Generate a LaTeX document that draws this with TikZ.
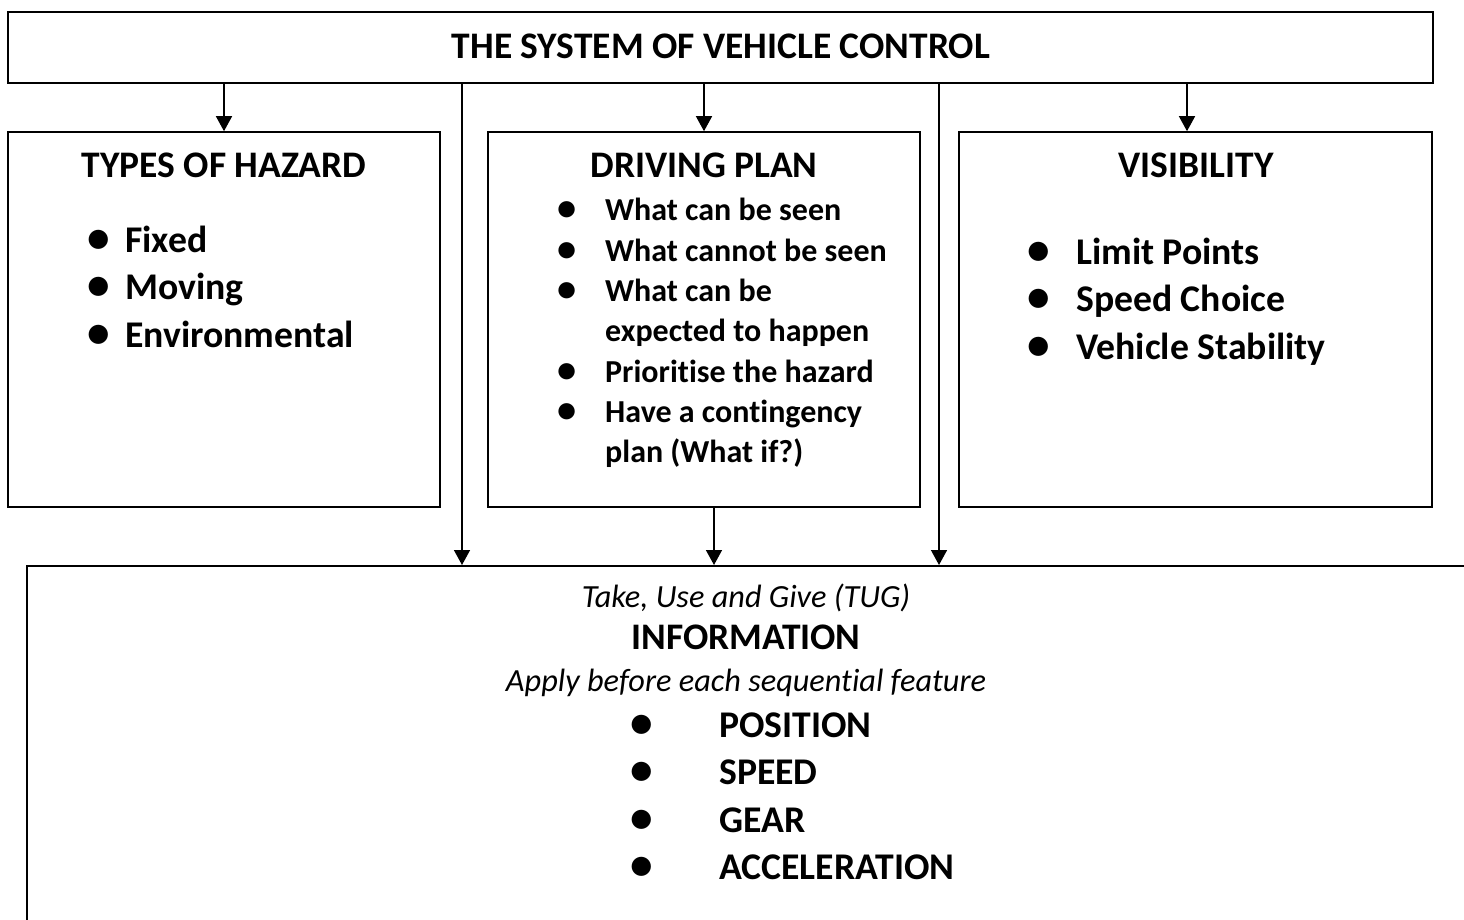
\documentclass[tikz,border=0pt]{standalone}
\usepackage{fontspec}
\setmainfont{Carlito}[RawFeature={-liga}]
\usetikzlibrary{arrows.meta}
\newcommand{\blt}[1]{\makebox[#1][l]{\scalebox{1.2}{\textbullet}}}
\newcommand{\bigfont}{\fontsize{37.7}{47.5}\selectfont\bfseries}
\newcommand{\midfont}{\fontsize{32}{40.3}\selectfont\bfseries}

\begin{document}
\begin{tikzpicture}[x=1pt,y=-1pt,
    box/.style={draw,line width=1.6pt,rectangle,inner sep=0pt},
    head/.style={anchor=base,inner sep=0pt,font=\fontsize{37.5}{45}\selectfont\bfseries},
    note/.style={anchor=base,inner sep=0pt,font=\fontsize{32.3}{39}\selectfont\itshape},
    items/.style={anchor=base west,inner sep=0pt},
    arr/.style={line width=1.5pt,-{Triangle[width=16pt,length=15pt]}},
    link/.style={line width=1.5pt}]
  \clip (0,0) rectangle (1464,920);

  % boxes
  \node[box,minimum width=1425pt,minimum height=71pt] (title) at (720.5,47.5) {};
  \node[box,minimum width=432pt,minimum height=375pt] (hazard) at (224,319.5) {};
  \node[box,minimum width=432pt,minimum height=375pt] (plan) at (704,319.5) {};
  \node[box,minimum width=473pt,minimum height=375pt] (vis) at (1195.5,319.5) {};
  \node[box,anchor=north west,minimum width=1500pt,minimum height=420pt] (info) at (26,565) {};

  % texts
  \node[head] (titletxt) at (721,59) {THE SYSTEM OF VEHICLE CONTROL};
  \node[head] (hazhead) at (224,178) {TYPES OF HAZARD};
  \node[head] (planhead) at (704,178) {DRIVING PLAN};
  \node[head] (vishead) at (1196,178) {VISIBILITY};

  \node[items,font=\bigfont] (hazlist) at (87,252) {\begin{tabular}[t]{@{}l@{}l@{}}
      \blt{38pt} & Fixed\\
      \blt{38pt} & Moving\\
      \blt{38pt} & Environmental
    \end{tabular}};
  \node[items,font=\midfont] (planlist) at (557,221) {\begin{tabular}[t]{@{}l@{}l@{}}
      \blt{48pt} & What can be seen\\
      \blt{48pt} & What cannot be seen\\
      \blt{48pt} & What can be\\
                 & expected to happen\\
      \blt{48pt} & Prioritise the hazard\\
      \blt{48pt} & Have a contingency\\
                 & plan (What if?)
    \end{tabular}};
  \node[items,font=\bigfont] (vislist) at (1027,264) {\begin{tabular}[t]{@{}l@{}l@{}}
      \blt{49pt} & Limit Points\\
      \blt{49pt} & Speed Choice\\
      \blt{49pt} & Vehicle Stability
    \end{tabular}};

  \node[note] (tug) at (746,607) {Take, Use and Give (TUG)};
  \node[head] (infohead) at (746,649) {INFORMATION};
  \node[note] (apply) at (746,691) {Apply before each sequential feature};
  \node[items,font=\bigfont] (infolist) at (630,737) {\begin{tabular}[t]{@{}l@{}l@{}}
      \blt{89pt} & POSITION\\
      \blt{89pt} & SPEED\\
      \blt{89pt} & GEAR\\
      \blt{89pt} & ACCELERATION
    \end{tabular}};

  % connectors
  \draw[arr] (title.south -| hazard.north) -- (hazard.north);
  \draw[arr] (title.south -| plan.north) -- (plan.north);
  \draw[arr] ([xshift=-8.5pt]vis.north |- title.south) -- ([xshift=-8.5pt]vis.north);
  \draw[arr] ([xshift=238pt]hazard.north |- title.south) -- ([xshift=238pt]hazard.north |- info.north);
  \draw[arr] ([xshift=235pt]plan.north |- title.south) -- ([xshift=235pt]plan.north |- info.north);
  \draw[arr] ([xshift=10pt]plan.south) -- ([xshift=10pt]plan.south |- info.north);
\end{tikzpicture}
\end{document}
